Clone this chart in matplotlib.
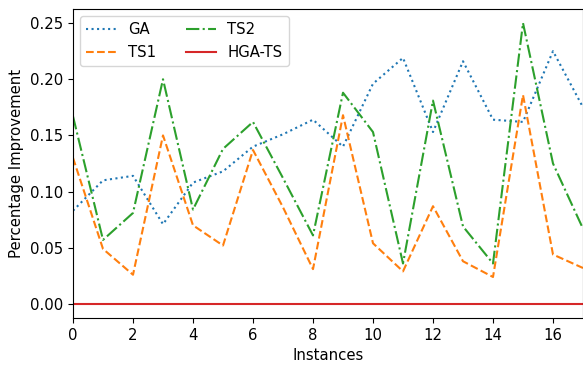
import matplotlib
matplotlib.use("Agg")
import matplotlib.pyplot as plt
import numpy as np

# Valores (mejora porcentual por instancia)
instances = np.arange(18)
ga = [0.083, 0.110, 0.114, 0.071, 0.108, 0.118, 0.140, 0.151, 0.164, 0.140,
      0.196, 0.219, 0.153, 0.216, 0.164, 0.162, 0.225, 0.175]
ts1 = [0.130, 0.049, 0.026, 0.150, 0.070, 0.052, 0.137, 0.086, 0.031, 0.168,
       0.054, 0.029, 0.087, 0.038, 0.024, 0.186, 0.044, 0.032]
ts2 = [0.167, 0.057, 0.081, 0.200, 0.084, 0.138, 0.162, 0.112, 0.061, 0.188,
       0.153, 0.036, 0.181, 0.069, 0.036, 0.250, 0.125, 0.067]
hga_ts = [0.0] * 18

plt.rcParams["font.size"] = 10.7

fig = plt.figure(figsize=(5.83, 3.65), dpi=100)
# el borde derecho del eje queda justo en el limite de la figura
ax = fig.add_axes([73 / 583, 47 / 365, 510 / 583, 309 / 365])

ax.plot(instances, ga, ":", label="GA")
ax.plot(instances, ts1, "--", label="TS1")
ax.plot(instances, ts2, "-.", label="TS2")
ax.plot(instances, hga_ts, "-", color="tab:red", label="HGA-TS")

ax.set_xlim(0, 17)
ax.set_xticks(range(0, 17, 2))
ax.set_xlabel("Instances")
ax.set_ylabel("Percentage Improvement")
ax.legend(loc="upper left", ncol=2)

fig.savefig("out.png", dpi=100)
